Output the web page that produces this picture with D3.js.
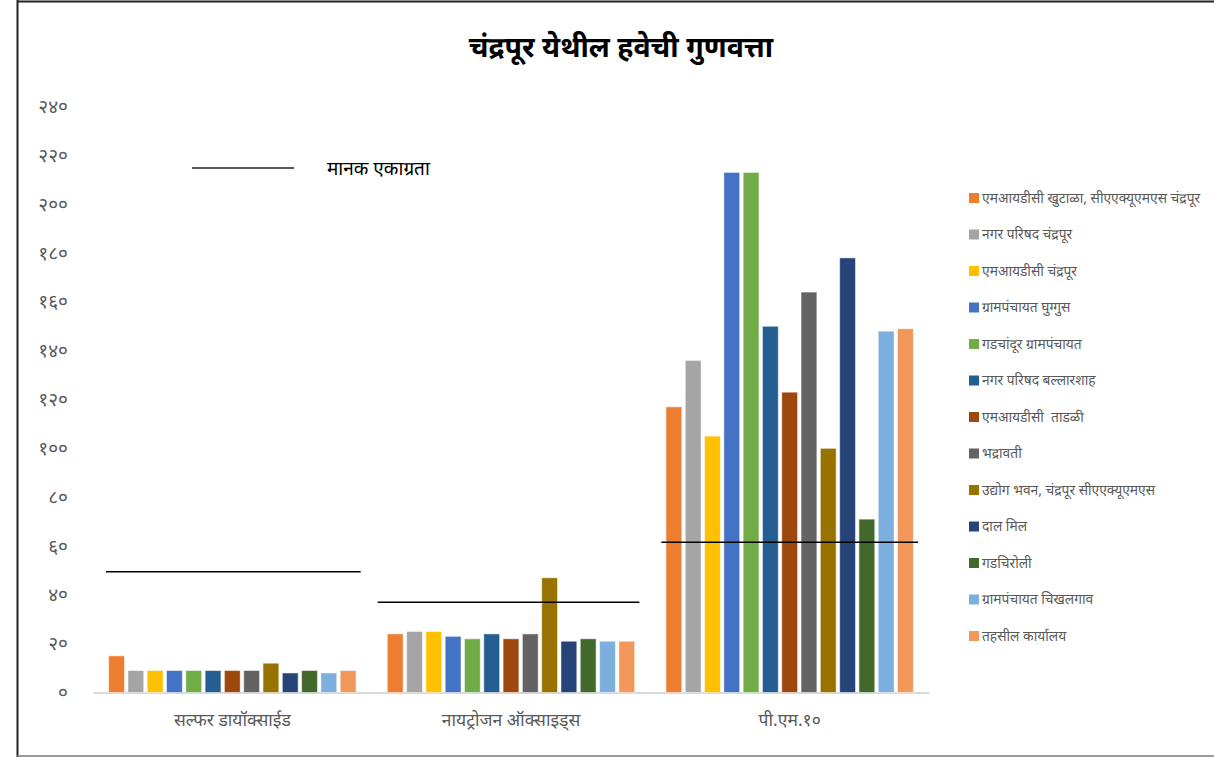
<!DOCTYPE html>
<html>
<head>
<meta charset="utf-8">
<script src="https://cdn.jsdelivr.net/npm/d3@7"></script>
<style>
  html, body { margin: 0; padding: 0; background: #fff; }
  svg { display: block; }
  text { font-family: "Nirmala UI", "Noto Sans Devanagari", "Noto Sans", "DejaVu Sans", sans-serif; white-space: pre; }
</style>
</head>
<body>
<script>
const title = "चंद्रपूर येथील हवेची गुणवत्ता";
const categories = ["सल्फर डायॉक्साईड", "नायट्रोजन ऑक्साइड्स", "पी.एम.१०"];
const seriesNames = [
  "एमआयडीसी खुटाळा, सीएएक्यूएमएस चंद्रपूर",
  "नगर परिषद चंद्रपूर",
  "एमआयडीसी चंद्रपूर",
  "ग्रामपंचायत घुग्गुस",
  "गडचांदूर ग्रामपंचायत",
  "नगर परिषद बल्लारशाह",
  "एमआयडीसी  ताडळी",
  "भद्रावती",
  "उद्योग भवन, चंद्रपूर सीएएक्यूएमएस",
  "दाल मिल",
  "गडचिरोली",
  "ग्रामपंचायत चिखलगाव",
  "तहसील कार्यालय"
];
const seriesColors = ["#ED7D31","#A5A5A5","#FFC000","#4472C4","#70AD47","#255E91","#9E480E","#636363","#997300","#264478","#43682B","#7CAFDD","#F1975A"];
// values per series: [SO2, NOx, PM10]
const so2Values  = [15, 9, 9, 9, 9, 9, 9, 9, 12, 8, 9, 8, 9];
const noxValues  = [24, 25, 25, 23, 22, 24, 22, 24, 47, 21, 22, 21, 21];
const pm10Values = [117, 136, 105, 213, 213, 150, 123, 164, 100, 178, 71, 148, 149];
const standardValues = [49.5, 37, 61.5];
const standardLabel = "मानक एकाग्रता";
const yTicks = [0, 20, 40, 60, 80, 100, 120, 140, 160, 180, 200, 220, 240];
const yTickLabels = ["०","२०","४०","६०","८०","१००","१२०","१४०","१६०","१८०","२००","२२०","२४०"];

const W = 1214, H = 757;
const svg = d3.select("body").append("svg").attr("width", W).attr("height", H);

// frame
svg.append("line").attr("x1", 17.5).attr("x2", 17.5).attr("y1", 0).attr("y2", H).attr("stroke", "#222").attr("stroke-width", 2);
svg.append("line").attr("x1", 17).attr("x2", W).attr("y1", 1.5).attr("y2", 1.5).attr("stroke", "#222").attr("stroke-width", 2);
svg.append("line").attr("x1", 17).attr("x2", W).attr("y1", 756).attr("y2", 756).attr("stroke", "#777").attr("stroke-width", 1.5);

// title
svg.append("text").attr("x", 621).attr("y", 57).attr("text-anchor", "middle")
  .attr("font-size", 28.5).attr("font-weight", "bold").attr("fill", "#000").text(title);

const y = d3.scaleLinear().domain([0, 240]).range([692.5, 106.5]);
const x0 = d3.scaleBand().domain(categories).range([93, 929]).padding(0);
const x1 = d3.scaleBand().domain(d3.range(seriesNames.length)).range([0, x0.bandwidth()])
  .paddingInner(0.18).paddingOuter(0.81);

// y tick labels
const yAxis = d3.axisLeft(y).tickValues(yTicks).tickSize(0).tickPadding(0)
  .tickFormat((d, i) => yTickLabels[i]);
const yg = svg.append("g").attr("transform", "translate(68,0)").call(yAxis);
yg.select(".domain").remove();
yg.selectAll("text").attr("font-size", 19).attr("fill", "#595959")
  .style("font-family", "'Nirmala UI','Noto Sans Devanagari','Noto Sans',sans-serif");

// x axis
const xAxis = d3.axisBottom(x0).tickSize(0).tickPadding(21);
const xg = svg.append("g").attr("transform", "translate(0,692.5)").call(xAxis);
xg.select(".domain").attr("stroke", "#d9d9d9").attr("stroke-width", 2);
xg.selectAll("text").attr("font-size", 17.5).attr("fill", "#595959")
  .style("font-family", "'Nirmala UI','Noto Sans Devanagari','Noto Sans',sans-serif");

// bars
const valuesByCat = [so2Values, noxValues, pm10Values];
const groups = svg.append("g").selectAll("g").data(categories).join("g")
  .attr("transform", d => `translate(${x0(d)},0)`);
groups.selectAll("rect").data((d, ci) => valuesByCat[ci].map((v, si) => ({si, v})))
  .join("rect")
  .attr("x", d => x1(d.si))
  .attr("width", x1.bandwidth())
  .attr("y", d => y(d.v))
  .attr("height", d => y(0) - y(d.v))
  .attr("fill", d => seriesColors[d.si])
  .attr("stroke", "rgba(255,255,255,0.5)")
  .attr("stroke-width", 1);

// standard lines
const lineInsetL = [13, 6, 11];
svg.append("g").selectAll("line").data(categories).join("line")
  .attr("x1", (d, i) => x0(d) + lineInsetL[i])
  .attr("x2", d => x0(d) + x0.bandwidth() - 11)
  .attr("y1", (d, i) => y(standardValues[i]))
  .attr("y2", (d, i) => y(standardValues[i]))
  .attr("stroke", "#000").attr("stroke-width", 1.5);

// standard legend
svg.append("line").attr("x1", 192).attr("x2", 294).attr("y1", 168).attr("y2", 168)
  .attr("stroke", "#222").attr("stroke-width", 1.5);
svg.append("text").attr("x", 327).attr("y", 174.5).attr("font-size", 19).attr("fill", "#000").text(standardLabel);

// legend
const legend = svg.append("g").selectAll("g").data(seriesNames).join("g")
  .attr("transform", (d, i) => `translate(969,${198 + i * 36.5})`);
legend.append("rect").attr("x", 0).attr("y", -5).attr("width", 10).attr("height", 10)
  .attr("fill", (d, i) => seriesColors[i]);
legend.append("text").attr("x", 13).attr("y", 4.5).attr("font-size", 13.8).attr("fill", "#595959").text(d => d);
</script>
</body>
</html>
